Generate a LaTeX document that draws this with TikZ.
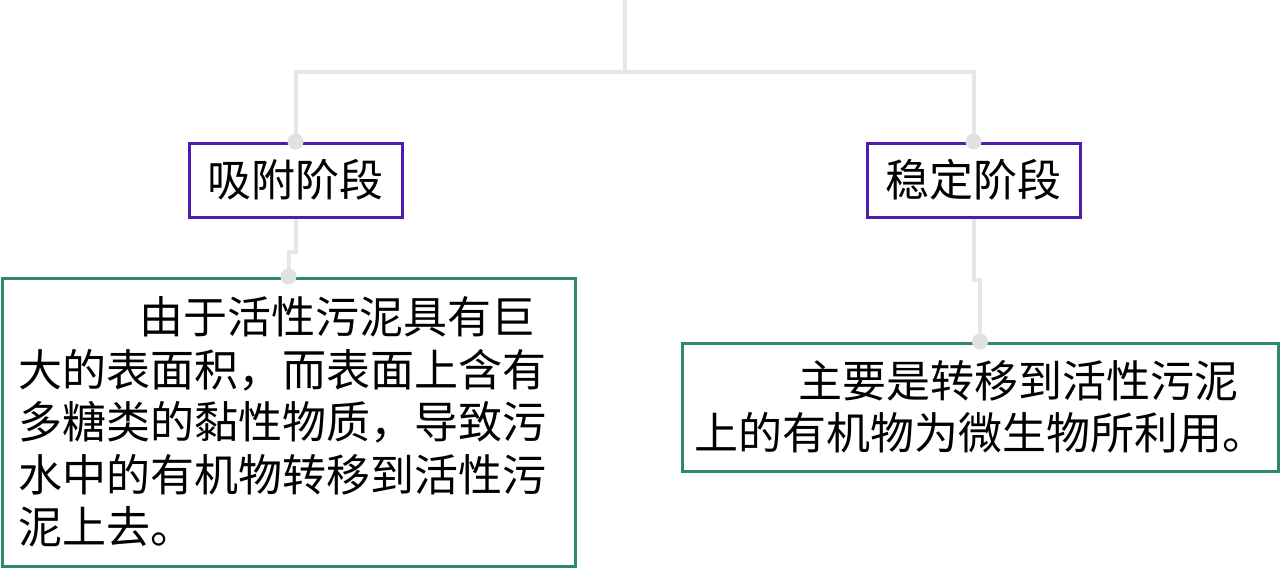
\documentclass[tikz,border=0pt]{standalone}
\usepackage{fontspec}
\usepackage{xcolor}
\usepackage{tikz}
\usetikzlibrary{positioning,calc}
\newfontfamily\cjk{Noto Sans CJK SC}
\definecolor{StageViolet}{HTML}{4E1DAD}
\definecolor{NoteGreen}{HTML}{2F8A68}
\definecolor{LinkGray}{HTML}{E6E6E6}
\definecolor{DotGray}{HTML}{E1E1E1}

\begin{document}
\begin{tikzpicture}[x=1pt,y=1pt,font=\cjk]
  \tikzset{
    stage/.style={draw=StageViolet,line width=3pt,fill=white,minimum width=213pt,minimum height=74pt,
      inner sep=0pt,font=\cjk\fontsize{44}{52}\selectfont},
    note/.style={draw=NoteGreen,line width=3pt,fill=white,align=left,inner sep=0pt,
      font=\cjk\fontsize{44}{52.5}\selectfont},
    link/.style={LinkGray,line width=4pt},
    joint/.style={fill=DotGray}
  }
  \useasboundingbox (0,0) rectangle (1280,-568);

  \coordinate (root) at (625,0);
  \coordinate (hub) at (625,-72);
  \node[stage] (adsorb) at (295.5,-180) {吸附阶段};
  \node[stage] (stable) at (973.5,-180) {稳定阶段};

  \node[note,minimum width=573pt,minimum height=288pt,text width=540pt] (adsorbnote) at (288.5,-422)
    {\hspace*{121pt}由于活性污泥具有巨\\大的表面积，而表面上含有\\多糖类的黏性物质，导致污\\水中的有机物转移到活性污\\泥上去。};
  \node[note,minimum width=596pt,minimum height=128pt,text width=572pt] (stablenote) at (980,-407)
    {\hspace*{104pt}主要是转移到活性污泥\\上的有机物为微生物所利用。};

  \draw[link] (root) -- (hub);
  \draw[link] (hub) -| (adsorb.north);
  \draw[link] (hub) -| (stable.north);
  \draw[link] (adsorb.south) -- ++(0,-33) -| (adsorbnote.north);
  \draw[link] (stable.south) -- ++(0,-61) -| (stablenote.north);

  \fill[joint] (adsorb.north) circle (8pt);
  \fill[joint] (stable.north) circle (8pt);
  \fill[joint] (adsorbnote.north) circle (8pt);
  \fill[joint] (stablenote.north) circle (8pt);
\end{tikzpicture}
\end{document}
